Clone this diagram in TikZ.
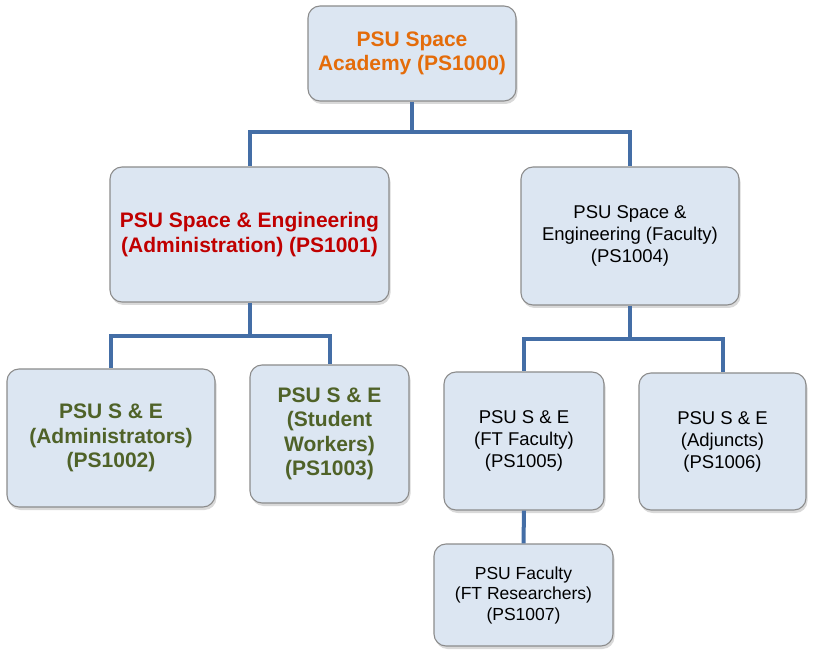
\documentclass[tikz,border=0pt]{standalone}
\usepackage{fontspec}
\setmainfont{Liberation Sans}
\usetikzlibrary{
    arrows.meta,
    positioning,
    shadows
}
\definecolor{boxfill}{RGB}{220,230,242}
\definecolor{boxline}{RGB}{140,140,140}
\definecolor{linkblue}{RGB}{68,110,166}
\definecolor{psuorange}{RGB}{228,108,10}
\definecolor{psured}{RGB}{192,0,0}
\definecolor{psugreen}{RGB}{79,98,40}

\begin{document}
\begin{tikzpicture}[x=1pt, y=-1pt,
        unit/.style={draw=boxline, line width=1.1pt, fill=boxfill, rounded corners=12pt,
            align=center, inner sep=0pt,
            drop shadow={shadow xshift=1.5pt, shadow yshift=-3pt, opacity=0.3}},
        bigtext/.style={font=\fontsize{21}{24.5}\selectfont\bfseries},
        smalltext/.style={font=\fontsize{18.5}{22}\selectfont},
        tinytext/.style={font=\fontsize{17.5}{20.5}\selectfont},
        link/.style={draw=linkblue, line width=4pt}]

        \useasboundingbox (0,0) rectangle (815,655);

        % boxes
        \node[unit, bigtext, text=psuorange, minimum width=208pt, minimum height=95pt] (academy) at (412,53.5)
            {PSU Space\\Academy (PS1000)};
        \node[unit, bigtext, text=psured, minimum width=279pt, minimum height=135pt] (admin) at (249.5,234.5)
            {PSU Space \& Engineering\\(Administration) (PS1001)};
        \node[unit, smalltext, minimum width=218pt, minimum height=138pt] (faculty) at (630,236)
            {PSU Space \&\\Engineering (Faculty)\\(PS1004)};
        \node[unit, bigtext, text=psugreen, minimum width=208pt, minimum height=138pt] (admins) at (111,438)
            {PSU S \& E\\(Administrators)\\(PS1002)};
        \node[unit, bigtext, text=psugreen, minimum width=159pt, minimum height=138pt] (students) at (329.5,434)
            {PSU S \& E\\(Student\\Workers)\\(PS1003)};
        \node[unit, smalltext, minimum width=160pt, minimum height=138pt] (ftfaculty) at (524,441)
            {PSU S \& E\\(FT Faculty)\\(PS1005)};
        \node[unit, smalltext, minimum width=167pt, minimum height=137pt] (adjuncts) at (722.5,441.5)
            {PSU S \& E\\(Adjuncts)\\(PS1006)};
        \node[unit, tinytext, minimum width=179pt, minimum height=102pt] (research) at (523.5,595)
            {PSU Faculty\\(FT Researchers)\\(PS1007)};

        % junctions
        \coordinate (jtop) at (412,132);
        \coordinate (jadmin) at (249.5,336);
        \coordinate (jfac) at (630,339);

        % connectors
        \draw[link] (academy.south) -- (jtop);
        \draw[link] (jtop) -| (admin.north);
        \draw[link] (jtop) -| (faculty.north);
        \draw[link] (admin.south) -- (jadmin);
        \draw[link] (jadmin) -| (admins.north);
        \draw[link] (jadmin) -| (students.north);
        \draw[link] (faculty.south) -- (jfac);
        \draw[link] (jfac) -| (ftfaculty.north);
        \draw[link] (jfac) -| (adjuncts.north);
        \draw[link] (ftfaculty.south) -- (research.north);
    \end{tikzpicture}
\end{document}
